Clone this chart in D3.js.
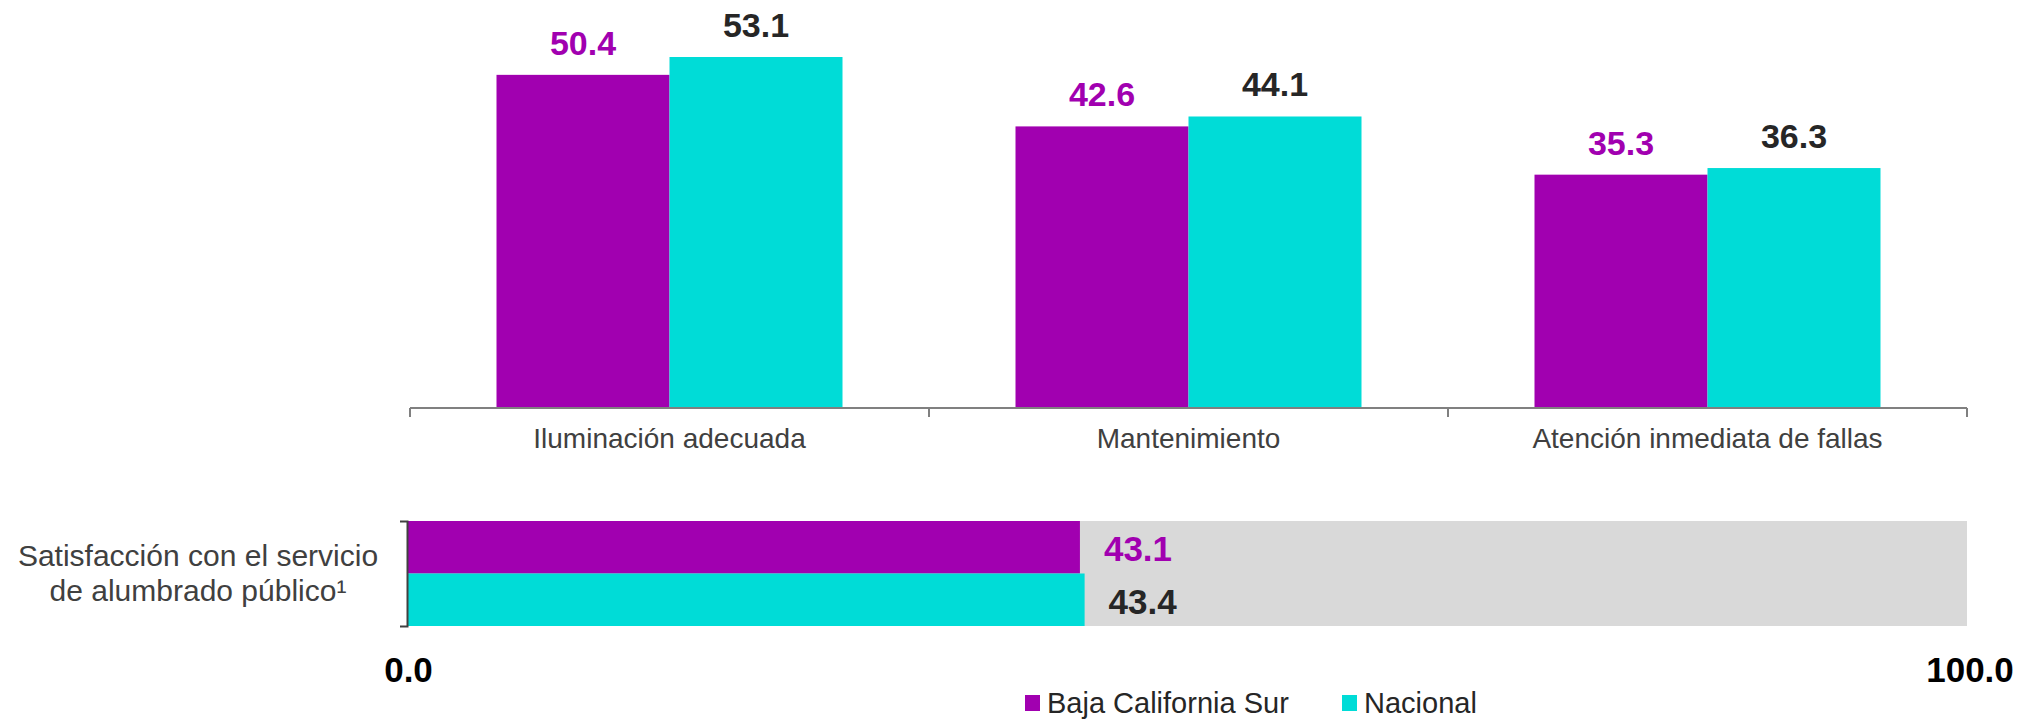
<!DOCTYPE html>
<html>
<head>
<meta charset="utf-8">
<script src="https://cdn.jsdelivr.net/npm/d3@7"></script>
<style>
  body { margin: 0; background: #fff; }
  svg text { font-family: "Liberation Sans", Arial, sans-serif; }
</style>
</head>
<body>
<div id="chart"></div>
<script>
// data
var categories = ["Iluminación adecuada", "Mantenimiento", "Atención inmediata de fallas"];
var series = ["Baja California Sur", "Nacional"];
var bcsValues = [50.4, 42.6, 35.3];
var nacValues = [53.1, 44.1, 36.3];
var satisfLabel = ["Satisfacción con el servicio", "de alumbrado público¹"];
var satisfValues = [43.1, 43.4];
var scaleTicks = [0, 100];

var colors = ["#a100b0", "#00dcd7"];
var labelColors = ["#a100b0", "#262626"];

var svgWidth = 2029;
var svgHeight = 721;

var svg = d3.select("#chart")
  .append("svg")
  .attr("width", svgWidth)
  .attr("height", svgHeight);

//Top chart scales
var baseY = 408;
var x0 = d3.scaleBand()
  .domain(categories)
  .range([410, 1967])
  .paddingInner(0)
  .paddingOuter(0);

var x1 = d3.scaleBand()
  .domain(series)
  .range([0, x0.bandwidth()])
  .paddingOuter(0.5)
  .paddingInner(0);

var y = d3.scaleLinear()
  .domain([0, 53.1])
  .range([baseY, 57]);

var rows = categories.map(function (c, i) {
  return { cat: c, vals: [bcsValues[i], nacValues[i]] };
});

var groups = svg.append("g").selectAll("g")
  .data(rows)
  .enter()
  .append("g")
  .attr("transform", d => `translate(${x0(d.cat)},0)`);

groups.selectAll("rect")
  .data(d => d.vals.map((v, j) => ({ s: series[j], v: v, j: j })))
  .enter()
  .append("rect")
  .attr("x", d => x1(d.s))
  .attr("y", d => y(d.v))
  .attr("width", x1.bandwidth())
  .attr("height", d => baseY - y(d.v))
  .attr("fill", d => colors[d.j]);

groups.selectAll("text.val")
  .data(d => d.vals.map((v, j) => ({ s: series[j], v: v, j: j })))
  .enter()
  .append("text")
  .attr("class", "val")
  .attr("x", d => x1(d.s) + x1.bandwidth() / 2)
  .attr("y", d => y(d.v) - 20)
  .attr("text-anchor", "middle")
  .style("font-size", "34px")
  .style("font-weight", "bold")
  .style("fill", d => labelColors[d.j])
  .text(d => d.v.toFixed(1));

//Top axis
var bottomAxis = d3.axisBottom(x0).tickSize(0).tickPadding(20);
var axG = svg.append("g")
  .attr("transform", `translate(0, ${baseY})`)
  .call(bottomAxis);
axG.select(".domain").remove();
axG.selectAll("text")
  .style("font-size", "28px")
  .style("fill", "#404040")
  .attr("dy", "0.71em");

svg.append("line")
  .attr("x1", x0.range()[0]).attr("x2", x0.range()[1])
  .attr("y1", baseY).attr("y2", baseY)
  .attr("stroke", "#808080").attr("stroke-width", 2);

var bounds = categories.map(c => x0(c)).concat([x0.range()[1]]);
svg.append("g").selectAll("line")
  .data(bounds)
  .enter()
  .append("line")
  .attr("x1", d => d).attr("x2", d => d)
  .attr("y1", baseY).attr("y2", baseY + 9)
  .attr("stroke", "#808080").attr("stroke-width", 2);

//Bottom chart
var xh = d3.scaleLinear()
  .domain([0, 100])
  .range([408, 1967]);

var yh = d3.scaleBand()
  .domain(series)
  .range([521, 626]);

svg.append("rect")
  .attr("x", xh(0))
  .attr("y", yh.range()[0])
  .attr("width", xh(100) - xh(0))
  .attr("height", yh.range()[1] - yh.range()[0])
  .attr("fill", "#d9d9d9");

svg.append("g").selectAll("rect")
  .data(satisfValues)
  .enter()
  .append("rect")
  .attr("x", xh(0))
  .attr("y", (d, i) => yh(series[i]))
  .attr("width", d => xh(d) - xh(0))
  .attr("height", yh.bandwidth())
  .attr("fill", (d, i) => colors[i]);

svg.append("g").selectAll("text")
  .data(satisfValues)
  .enter()
  .append("text")
  .attr("x", d => xh(d) + 24)
  .attr("y", (d, i) => yh(series[i]) + yh.bandwidth() / 2 + 14)
  .style("font-size", "35px")
  .style("font-weight", "bold")
  .style("fill", (d, i) => labelColors[i])
  .text(d => d.toFixed(1));

var leftAxis = d3.axisLeft(yh).tickValues([]).tickSizeOuter(7);
svg.append("g")
  .attr("transform", "translate(407,0)")
  .call(leftAxis)
  .select(".domain")
  .attr("stroke", "#404040")
  .attr("stroke-width", 2);

var scaleAxis = d3.axisBottom(xh)
  .tickValues(scaleTicks)
  .tickFormat(d3.format(".1f"))
  .tickSize(0)
  .tickPadding(31);
var sG = svg.append("g")
  .attr("transform", `translate(0, ${yh.range()[1]})`)
  .call(scaleAxis);
sG.select(".domain").remove();
sG.selectAll("text")
  .style("font-size", "35px")
  .style("font-weight", "bold")
  .style("fill", "#000")
  .attr("dy", "0.71em");
sG.selectAll(".tick").filter(d => d === 100).attr("transform", `translate(${xh(100) + 3},0)`);

svg.append("text")
  .attr("text-anchor", "middle")
  .style("font-size", "30px")
  .style("fill", "#404040")
  .selectAll("tspan")
  .data(satisfLabel)
  .enter()
  .append("tspan")
  .attr("x", 198)
  .attr("y", (d, i) => 566 + i * 35)
  .text(d => d);

//Legend
var legend = svg.append("g").attr("transform", "translate(1025, 0)");
var legX = [0, 317];
var legItems = legend.selectAll("g")
  .data(series)
  .enter()
  .append("g")
  .attr("transform", (d, i) => `translate(${legX[i]}, 0)`);
legItems.append("rect")
  .attr("x", 0).attr("y", 695)
  .attr("width", 15).attr("height", 16)
  .attr("fill", (d, i) => colors[i]);
legItems.append("text")
  .attr("x", 22).attr("y", 713)
  .style("font-size", "29px")
  .style("fill", "#262626")
  .text(d => d);
</script>
</body>
</html>
